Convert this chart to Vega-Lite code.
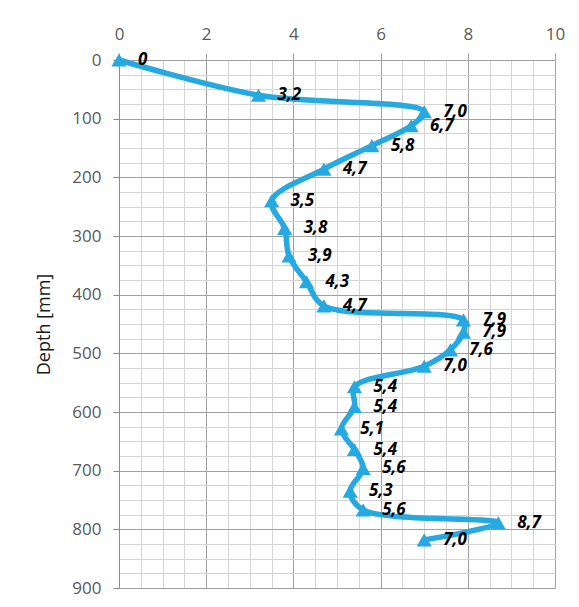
{
  "$schema": "https://vega.github.io/schema/vega-lite/v6.json",
  "width": 436,
  "height": 528,
  "autosize": {"type": "none"},
  "padding": {"left": 119, "top": 60, "right": 24, "bottom": 19},
  "background": "white",
  "config": {"view": {"stroke": null}, "font": "Open Sans"},
  "data": {"values": [
    {"value": 0, "depth": 0, "label": "0"},
    {"value": 3.2, "depth": 60, "label": "3,2"},
    {"value": 7.0, "depth": 88, "label": "7,0"},
    {"value": 6.7, "depth": 112, "label": "6,7"},
    {"value": 5.8, "depth": 146, "label": "5,8"},
    {"value": 4.7, "depth": 186, "label": "4,7"},
    {"value": 3.5, "depth": 240, "label": "3,5"},
    {"value": 3.8, "depth": 287, "label": "3,8"},
    {"value": 3.9, "depth": 334, "label": "3,9"},
    {"value": 4.3, "depth": 378, "label": "4,3"},
    {"value": 4.7, "depth": 419, "label": "4,7"},
    {"value": 7.9, "depth": 443, "label": "7,9"},
    {"value": 7.9, "depth": 464, "label": "7,9"},
    {"value": 7.6, "depth": 494, "label": "7,6"},
    {"value": 7.0, "depth": 522, "label": "7,0"},
    {"value": 5.4, "depth": 557, "label": "5,4"},
    {"value": 5.4, "depth": 591, "label": "5,4"},
    {"value": 5.1, "depth": 629, "label": "5,1"},
    {"value": 5.4, "depth": 664, "label": "5,4"},
    {"value": 5.6, "depth": 696, "label": "5,6"},
    {"value": 5.3, "depth": 735, "label": "5,3"},
    {"value": 5.6, "depth": 767, "label": "5,6"},
    {"value": 8.7, "depth": 789, "label": "8,7"},
    {"value": 7.0, "depth": 818, "label": "7,0"}
  ]},
  "encoding": {
    "x": {
      "field": "value", "type": "quantitative",
      "scale": {"domain": [0, 10], "nice": false, "zero": false},
      "axis": {
        "orient": "top", "title": null, "domain": false,
        "values": [0,0.5,1,1.5,2,2.5,3,3.5,4,4.5,5,5.5,6,6.5,7,7.5,8,8.5,9,9.5,10],
        "labelExpr": "datum.value % 2 === 0 ? format(datum.value, 'd') : ''",
        "labelOverlap": false, "labelFlush": false, "labelBound": false,
        "labelFontSize": 17, "labelColor": "#595959", "labelPadding": 10,
        "tickSize": 7,
        "tickColor": "#a0a0a0",
        "tickOpacity": {"condition": {"test": "datum.value % 2 === 0", "value": 1}, "value": 0},
        "grid": true,
        "gridColor": {"condition": {"test": "datum.value % 2 === 0", "value": "#a0a0a0"}, "value": "#d4d4d4"},
        "gridWidth": 1
      }
    },
    "y": {
      "field": "depth", "type": "quantitative",
      "scale": {"domain": [0, 900], "reverse": true, "nice": false, "zero": false},
      "axis": {
        "title": "Depth [mm]", "titleFontSize": 18, "titleFontWeight": "normal", "titleColor": "#1a1a1a", "titlePadding": 18,
        "values": [0,25,50,75,100,125,150,175,200,225,250,275,300,325,350,375,400,425,450,475,500,525,550,575,600,625,650,675,700,725,750,775,800,825,850,875,900],
        "labelExpr": "datum.value % 100 === 0 ? format(datum.value, 'd') : ''",
        "labelOverlap": false, "labelFlush": false, "labelBound": false,
        "labelFontSize": 17, "labelColor": "#595959", "labelPadding": 12,
        "domain": true, "domainColor": "#8c8c8c",
        "tickSize": 6,
        "tickColor": "#8c8c8c",
        "tickOpacity": {"condition": {"test": "datum.value % 100 === 0", "value": 1}, "value": 0},
        "grid": true,
        "gridColor": {"condition": {"test": "datum.value % 100 === 0", "value": "#a0a0a0"}, "value": "#d4d4d4"},
        "gridWidth": 1
      }
    }
  },
  "layer": [
    {
      "mark": {"type": "line", "interpolate": "catmull-rom", "color": "#25a9e0", "strokeWidth": 5.5},
      "encoding": {"order": {"field": "depth", "type": "quantitative"}}
    },
    {
      "mark": {"type": "point", "shape": "triangle-up", "filled": true, "size": 230, "color": "#25a9e0", "opacity": 1}
    },
    {
      "mark": {"type": "text", "align": "left", "baseline": "middle", "dx": 19, "fontStyle": "italic", "fontWeight": "bold", "fontSize": 17, "color": "#000000"},
      "encoding": {"text": {"field": "label", "type": "nominal"}}
    }
  ]
}
